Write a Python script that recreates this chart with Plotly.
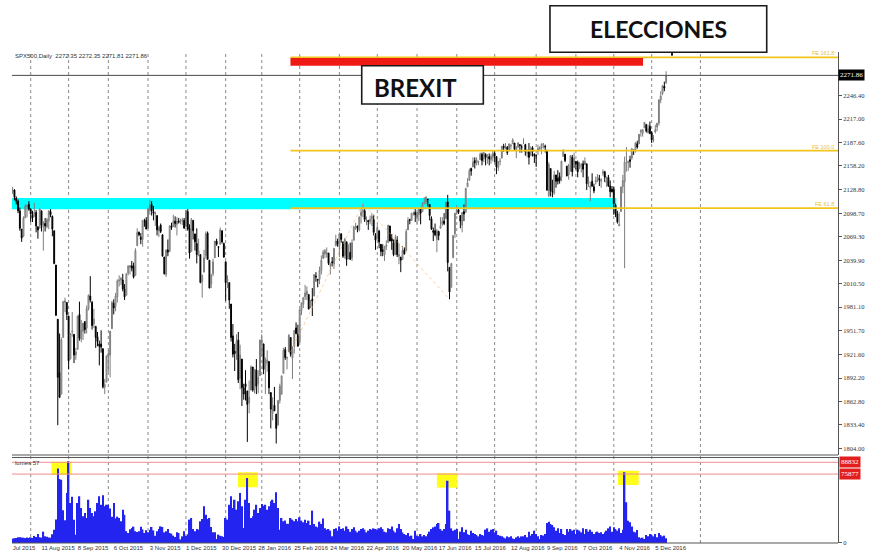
import plotly.graph_objects as go
import pandas as pd

# ---------------- trading calendar (MT4 CFD bars) ----------------
trade_dates = pd.bdate_range("2015-07-20", "2016-12-13").drop(
    pd.to_datetime(["2015-12-25", "2016-01-01", "2016-03-25", "2016-11-24"]))

# ---------------- OHLC (one line per month) ----------------
opens = [
    2126,2128,2118,2114,2102,2079,2070,2093,2107,2110,
    2104,2097,2095,2100,2082,2080,2102,2082,2086,2082,2089,2101,2095,2077,2034,1966,1899,1872,1943,1987,1987,
    1970,1916,1950,1947,1921,1928,1972,1941,1951,1963,1955,1979,1995,1987,1960,1957,1944,1935,1935,1929,1881,1887,
    1919,1921,1954,1986,1982,1994,2014,2015,2015,2004,1996,2024,2031,2033,2033,2021,2058,2075,2069,2066,2089,2090,
    2080,2102,2110,2101,2098,2096,2077,2084,2072,2044,2022,2053,2051,2083,2082,2089,2085,2089,2088,2089,2090,
    2082,2101,2080,2051,2090,2073,2061,2047,2047,2013,2025,2046,2074,2040,2010,2023,2043,2064,2057,2060,2077,2061,
    2038,2014,2012,1985,1945,1926,1927,1940,1892,1916,1880,1885,1876,1861,1877,1906,1878,1902,1885,1895,
    1936,1935,1907,1911,1913,1874,1848,1858,1847,1833,1864,1872,1898,1928,1917,1925,1943,1917,1932,1955,1947,
    1937,1977,1985,1994,1997,1997,1982,1991,1995,2020,2016,2016,2027,2042,2048,2048,2049,2033,2038,2035,2058,2064,
    2057,2073,2063,2046,2063,2045,2050,2043,2065,2082,2083,2078,2096,2101,2102,2092,2090,2089,2092,2091,2071,
    2067,2077,2060,2053,2047,2057,2062,2083,2067,2062,2047,2065,2045,2044,2041,2053,2052,2078,2091,2090,2099,2100,
    2094,2097,2104,2101,2111,2113,2116,2110,2092,2077,2077,2066,2076,2080,2085,2089,2092,2113,2031,2006,2043,2073,
    2099,2103,2096,2084,2101,2100,2132,2140,2155,2157,2165,2162,2163,2166,2173,2167,2173,2168,2170,2166,2169,
    2174,2170,2156,2164,2168,2183,2182,2182,2177,2183,2186,2187,2178,2182,2185,2182,2187,2185,2174,2176,2171,2181,2173,
    2171,2177,2180,2181,2186,2183,2178,2121,2155,2127,2124,2147,2143,2145,2144,2170,2173,2158,2147,2161,2169,2156,
    2164,2163,2155,2158,2161,2160,2161,2137,2131,2139,2132,2138,2140,2142,2139,2149,2151,2137,2144,2133,2129,
    2129,2109,2098,2083,2101,2132,2138,2167,2162,2166,2168,2177,2178,2186,2186,2201,2199,2206,2210,2200,2208,
    2200,2191,2201,2207,2212,2241,2249,2258,2263,
]
highs = [
    2132,2129,2120,2116,2106,2079,2095,2110,2110,2114,
    2105,2102,2112,2103,2082,2105,2102,2089,2093,2093,2102,2104,2096,2077,2034,1966,1948,1943,1989,1993,1987,
    1970,1948,1975,1947,1930,1970,1988,1965,1961,1963,1983,1997,2020,1989,1979,1957,1950,1939,1952,1929,1891,1920,
    1927,1951,1989,1991,1999,2016,2021,2019,2023,2010,2024,2033,2034,2039,2037,2055,2080,2076,2074,2090,2092,2094,
    2106,2116,2114,2108,2101,2096,2083,2086,2072,2044,2053,2066,2084,2087,2097,2095,2094,2093,2092,2093,2093,
    2103,2104,2085,2093,2090,2073,2080,2067,2047,2022,2053,2076,2076,2040,2023,2042,2064,2067,2057,2081,2077,2062,
    2038,2021,2012,1985,1960,1935,1947,1950,1934,1916,1885,1902,1876,1889,1908,1906,1902,1916,1902,1940,
    1947,1935,1918,1927,1913,1874,1868,1881,1847,1864,1885,1895,1930,1931,1919,1947,1943,1932,1952,1962,1959,
    1978,1987,1994,2009,2007,1997,1990,2005,2022,2025,2016,2032,2046,2053,2054,2056,2049,2036,2044,2055,2072,2067,
    2075,2074,2063,2068,2063,2060,2062,2066,2083,2087,2083,2095,2104,2111,2104,2095,2090,2096,2099,2097,2074,
    2084,2077,2060,2060,2058,2065,2084,2083,2073,2066,2072,2070,2061,2044,2058,2056,2079,2094,2092,2099,2101,2104,
    2100,2105,2105,2113,2119,2120,2117,2110,2095,2081,2086,2079,2077,2094,2094,2099,2113,2122,2031,2036,2071,2099,
    2109,2105,2096,2100,2110,2131,2143,2155,2156,2169,2169,2169,2164,2175,2175,2176,2174,2173,2174,2173,2177,
    2178,2170,2164,2168,2183,2186,2187,2183,2186,2186,2193,2187,2183,2188,2185,2185,2193,2186,2179,2187,2183,2183,2174,
    2173,2185,2183,2186,2187,2185,2178,2163,2155,2141,2152,2147,2153,2150,2165,2179,2173,2158,2161,2172,2172,2175,
    2164,2165,2163,2162,2165,2169,2161,2145,2138,2149,2136,2145,2148,2147,2143,2154,2152,2145,2147,2140,2133,
    2132,2111,2102,2100,2132,2147,2170,2182,2165,2171,2180,2179,2188,2190,2198,2204,2204,2213,2211,2210,2214,
    2202,2197,2210,2212,2242,2252,2259,2264,2277,
]
lows = [
    2123,2115,2110,2099,2077,2063,2069,2094,2094,2102,
    2088,2088,2095,2075,2067,2080,2076,2052,2076,2080,2079,2094,2070,2035,1970,1833,1867,1872,1943,1975,1965,
    1903,1916,1944,1911,1915,1928,1939,1937,1940,1948,1948,1977,1987,1953,1955,1930,1932,1908,1924,1879,1872,1887,
    1900,1893,1954,1972,1976,1987,2007,2009,2001,1990,1996,2021,2022,2026,2017,2021,2058,2070,2060,2057,2082,2079,
    2080,2097,2096,2090,2083,2071,2069,2074,2045,2022,2019,2045,2051,2078,2082,2081,2071,2086,2085,2084,2080,
    2082,2077,2042,2051,2066,2052,2036,2045,2011,1993,2025,2042,2041,2005,2005,2020,2043,2058,2044,2060,2061,2043,
    1989,2005,1979,1938,1918,1901,1915,1886,1878,1857,1865,1864,1812,1848,1877,1875,1873,1872,1873,1895,
    1920,1897,1872,1900,1872,1829,1839,1851,1810,1833,1860,1871,1898,1915,1903,1925,1919,1891,1923,1947,1932,
    1937,1971,1980,1990,1990,1978,1980,1970,1995,2013,2006,2010,2022,2042,2043,2043,2034,2022,2032,2029,2058,2057,
    2044,2062,2043,2042,2033,2041,2041,2039,2065,2078,2075,2076,2086,2094,2088,2084,2078,2085,2083,2071,2053,
    2066,2055,2045,2045,2039,2053,2062,2064,2053,2045,2047,2044,2035,2025,2041,2047,2052,2078,2085,2090,2096,2088,
    2086,2089,2085,2101,2110,2110,2107,2090,2078,2064,2070,2050,2065,2080,2083,2084,2092,2026,1991,2006,2043,2068,
    2097,2098,2080,2075,2089,2100,2132,2140,2146,2157,2155,2159,2159,2166,2159,2163,2159,2161,2159,2161,2164,
    2163,2148,2152,2159,2168,2176,2179,2172,2177,2179,2186,2178,2168,2181,2175,2175,2186,2171,2169,2160,2171,2170,2162,
    2157,2172,2178,2173,2180,2175,2127,2119,2120,2119,2122,2131,2135,2136,2139,2170,2163,2145,2141,2151,2145,2156,
    2154,2144,2155,2150,2144,2160,2128,2132,2114,2132,2124,2135,2138,2133,2131,2146,2138,2132,2132,2119,2125,
    2097,2094,2086,2083,2101,2124,2030,2151,2152,2156,2166,2172,2175,2180,2186,2195,2195,2206,2200,2199,2198,
    2187,2188,2199,2202,2209,2237,2247,2252,2261,
]
closes = [
    2128,2119,2114,2102,2080,2068,2093,2108,2109,2104,
    2098,2093,2100,2083,2078,2104,2084,2087,2083,2091,2102,2097,2079,2036,1971,1893,1868,1940,1988,1989,1972,
    1914,1948,1951,1921,1925,1970,1942,1952,1961,1953,1979,1996,1990,1958,1966,1943,1938,1932,1931,1881,1884,1920,
    1923,1951,1987,1980,1995,2014,2015,2017,2004,1994,2023,2033,2033,2030,2019,2052,2075,2072,2066,2090,2089,2079,
    2104,2109,2102,2099,2099,2078,2081,2076,2045,2023,2053,2050,2083,2081,2089,2086,2089,2088,2089,2090,2080,
    2102,2079,2049,2091,2077,2063,2047,2052,2012,2021,2043,2073,2041,2005,2021,2038,2064,2060,2056,2078,2063,2044,
    2012,2016,1990,1943,1922,1923,1938,1890,1921,1880,1872,1881,1859,1868,1906,1877,1903,1882,1893,1940,
    1940,1903,1913,1915,1880,1853,1852,1851,1829,1864,1882,1895,1927,1918,1918,1946,1922,1929,1952,1948,1932,
    1978,1986,1993,1999,2001,1979,1989,1989,2022,2019,2015,2027,2040,2050,2052,2049,2036,2036,2037,2055,2064,2060,
    2073,2066,2045,2066,2041,2048,2041,2062,2082,2082,2080,2094,2100,2102,2091,2092,2088,2091,2095,2075,2065,
    2081,2063,2051,2051,2057,2059,2084,2064,2064,2047,2066,2047,2047,2040,2052,2048,2076,2090,2090,2099,2099,2097,
    2100,2105,2099,2110,2112,2119,2116,2096,2079,2075,2072,2077,2071,2083,2089,2086,2113,2037,2000,2036,2071,2099,
    2103,2100,2089,2100,2098,2130,2137,2152,2152,2163,2162,2166,2164,2173,2165,2175,2169,2169,2167,2170,2174,
    2171,2157,2164,2164,2183,2181,2182,2175,2186,2184,2191,2179,2182,2187,2184,2182,2187,2176,2175,2169,2180,2176,2171,
    2171,2180,2181,2186,2186,2182,2128,2160,2127,2126,2147,2139,2139,2140,2164,2178,2165,2146,2160,2171,2151,2168,
    2161,2151,2160,2160,2154,2164,2136,2139,2133,2133,2127,2140,2144,2141,2141,2151,2144,2139,2133,2126,2126,
    2111,2098,2088,2085,2132,2140,2163,2167,2164,2164,2180,2177,2187,2182,2198,2203,2204,2213,2202,2205,2199,
    2191,2192,2204,2212,2241,2246,2259,2256,2271.86,
]
volumes = [
    4800,5200,5600,6200,6400,6000,5800,5400,6000,5600,
    6200,5500,7800,6600,9800,6400,5900,12500,7400,6800,6000,5700,9600,14500,26000,82000,70500,69500,36000,25000,55000,
    89900,44000,51000,25700,9000,44000,51400,38500,29400,33000,27500,47700,38500,33000,29400,34900,44000,51400,42200,52500,40400,42200,
    42000,38000,29000,44000,27000,29000,27500,24000,36700,31000,13000,11000,15000,16500,18000,13000,12000,13000,18000,15000,11000,14000,
    11700,14700,17600,13900,8100,12800,15400,18300,17600,11700,12800,15400,11000,10300,8100,6600,11700,11000,4000,7300,12800,
    8000,9500,25700,27500,15400,12800,15400,14700,23900,26400,40400,31200,26400,27500,17600,11700,11700,4400,9200,8100,7300,6600,
    27500,25700,42200,51400,38500,47700,36700,45900,55000,40400,16500,47700,71500,44000,27500,29400,36700,42200,33000,38500,
    43000,41000,42000,36700,40400,46000,47700,44000,55800,38500,14700,27500,23900,24900,21300,21300,27500,25700,24000,26500,24000,
    28300,24600,22800,25700,22000,24600,19800,35600,20900,18300,17200,23500,20900,27100,16100,14700,15400,13600,7300,15400,16100,13600,
    18300,15400,16100,13600,18300,15400,12500,15400,17200,13600,11700,13600,15400,16100,14700,11700,13600,15400,14700,16100,15400,
    14700,16100,17200,15400,12500,11700,16100,15400,18300,13600,11700,16100,20900,15400,11700,9900,8800,11000,7300,8100,4400,13600,
    8100,7300,9900,7300,8800,7300,9900,12500,15400,17200,18300,20900,22000,15400,13600,15400,20900,68600,35600,16100,13600,14700,
    15400,4400,12500,17200,11700,14700,9900,8800,13600,11000,9900,8800,7300,9900,8800,8100,14700,16100,12500,14700,15400,
    11700,13600,8800,8100,7300,6200,5100,7300,6200,7300,5100,4400,6200,7300,5900,7300,7300,8800,6200,12500,8100,9900,13600,
    9900,7300,4400,8800,8100,9900,22000,23500,20900,19800,17200,13600,16100,11000,15400,9900,8800,15400,12500,15400,13600,14700,
    9900,14700,13600,11700,16100,9900,15400,12500,14700,12500,9900,11700,12500,11000,11700,9900,11700,13600,16100,18300,12500,
    17200,15400,13600,16100,11000,14700,77800,44800,24600,22800,18300,12500,11700,14300,6200,5100,5900,4400,8800,7300,9900,
    8800,7300,9900,6200,11000,8800,7300,8100,5100,
]

# ---------------- axis labels ----------------
tick_dates = ["2015-07-20", "2015-08-11", "2015-09-08", "2015-10-06", "2015-11-03", "2015-12-01",
              "2015-12-30", "2016-01-28", "2016-02-25", "2016-03-24", "2016-04-22", "2016-05-20",
              "2016-06-17", "2016-07-15", "2016-08-12", "2016-09-09", "2016-10-07", "2016-11-04", "2016-12-05"]
tick_labels = ["Jul 2015", "11 Aug 2015", "8 Sep 2015", "6 Oct 2015", "3 Nov 2015", "1 Dec 2015",
               "30 Dec 2015", "28 Jan 2016", "25 Feb 2016", "24 Mar 2016", "22 Apr 2016", "20 May 2016",
               "17 Jun 2016", "15 Jul 2016", "12 Aug 2016", "9 Sep 2016", "7 Oct 2016", "4 Nov 2016", "5 Dec 2016"]
price_ticks = [1804.00, 1833.40, 1862.80, 1892.20, 1921.60, 1951.70, 1981.10, 2010.50, 2039.90,
               2069.30, 2098.70, 2128.80, 2158.20, 2187.60, 2217.00, 2246.40]

# levels / objects drawn on the chart
bid_price = 2271.86
vol_levels = [88832, 75877]
fe_levels = [61.8, 100.0, 161.8]
fe_prices = [2105.3, 2177.5, 2294.5]
fe_point_dates = ["2016-02-23", "2016-04-20", "2016-06-27"]
fe_point_prices = [1925, 2111, 1991]

n = len(trade_dates)
for name, arr in [("opens", opens), ("highs", highs), ("lows", lows), ("closes", closes), ("volumes", volumes)]:
    if len(arr) != n:
        raise ValueError(f"{name} has {len(arr)} values, expected {n}")

bar_idx = list(range(n))
pos = {d.strftime("%Y-%m-%d"): i for i, d in enumerate(trade_dates)}
tickvals = [pos[d] for d in tick_dates]
month_starts = [i for i in range(1, n) if trade_dates[i].month != trade_dates[i - 1].month] + [381]

X_MIN, X_MAX = -0.36, 457.2
P_DOM = [0.16206, 0.90424]
V_DOM = [0.0, 0.15746]

fig = go.Figure()
fig.add_trace(go.Candlestick(
    x=bar_idx, open=opens, high=highs, low=lows, close=closes,
    increasing=dict(line=dict(color="#7d7d7d", width=1), fillcolor="#d4d4d4"),
    decreasing=dict(line=dict(color="#000000", width=1), fillcolor="#000000"),
    whiskerwidth=0, xaxis="x", yaxis="y", showlegend=False, hoverinfo="skip"))
fig.add_trace(go.Bar(
    x=bar_idx, y=volumes, marker=dict(color="#2424f0", line=dict(width=0)),
    xaxis="x2", yaxis="y2", showlegend=False, hoverinfo="skip"))
fig.add_trace(go.Scatter(
    x=[pos[d] for d in fe_point_dates], y=fe_point_prices, mode="lines",
    line=dict(color="rgba(238,170,80,0.55)", width=1, dash="dot"),
    xaxis="x", yaxis="y", showlegend=False, hoverinfo="skip"))

shapes = []
# cyan resistance band (behind candles)
shapes.append(dict(type="rect", xref="x", yref="y", x0=X_MIN, x1=334.4, y0=2104, y1=2118,
                   fillcolor="#00ffff", line=dict(width=0), layer="below"))
# yellow highlight boxes on the volume spikes (behind bars)
for (xa, xb, ya, yb) in [(21.5, 32.6, 74900, 89500), (124.8, 135.9, 61300, 77900),
                         (235.0, 246.1, 60900, 76800), (335.3, 346.8, 63900, 79600)]:
    shapes.append(dict(type="rect", xref="x2", yref="y2", x0=xa, x1=xb, y0=ya, y1=yb,
                       fillcolor="#ffff1a", line=dict(width=0), layer="below"))
# month grid lines
for m in month_starts:
    shapes.append(dict(type="line", xref="x", yref="paper", x0=m, x1=m, y0=0, y1=P_DOM[1],
                       line=dict(color="#8a8a8a", width=1, dash="dot"), layer="below"))
# Fibonacci expansion levels
for p in fe_prices:
    shapes.append(dict(type="line", xref="x", yref="y", x0=153.9, x1=X_MAX, y0=p, y1=p,
                       line=dict(color="#f2c41c", width=1.6)))
# red target band
shapes.append(dict(type="rect", xref="x", yref="y", x0=153.9, x1=349.2, y0=2284, y1=2293.8,
                   fillcolor="#f01a14", line=dict(width=0)))
# bid line
shapes.append(dict(type="line", xref="x", yref="y", x0=X_MIN, x1=X_MAX, y0=bid_price, y1=bid_price,
                   line=dict(color="#4a4a4a", width=1)))
# volume level lines
for v in vol_levels:
    shapes.append(dict(type="line", xref="x2", yref="y2", x0=X_MIN, x1=X_MAX, y0=v, y1=v,
                       line=dict(color="#f08c8c", width=1)))
# panel borders
for yp in [P_DOM[0], V_DOM[1], 0.0]:
    shapes.append(dict(type="line", xref="paper", yref="paper", x0=0, x1=1, y0=yp, y1=yp,
                       line=dict(color="#555555", width=1)))
# annotation boxes
shapes.append(dict(type="rect", xref="paper", yref="paper", x0=0.4234, x1=0.5706, y0=0.8085, y1=0.8790,
                   fillcolor="white", line=dict(color="#1a1a1a", width=1.6)))
shapes.append(dict(type="rect", xref="paper", yref="paper", x0=0.6513, x1=0.9137, y0=0.9037, y1=0.9895,
                   fillcolor="white", line=dict(color="#1a1a1a", width=1.6)))
shapes.append(dict(type="line", xref="paper", yref="paper", x0=0.7990, x1=0.7990, y0=0.8975, y1=0.9037,
                   line=dict(color="#1a1a1a", width=2)))

annotations = [
    dict(x=0.4891, y=0.8395, xref="paper", yref="paper", xanchor="center", yanchor="middle",
         text="<b>BREXIT</b>", showarrow=False, font=dict(family="Lato", size=24, color="#111111")),
    dict(x=0.7826, y=0.9470, xref="paper", yref="paper", xanchor="center", yanchor="middle",
         text="<b>ELECCIONES</b>", showarrow=False, font=dict(family="Lato", size=23, color="#111111")),
    dict(x=0.0012, y=0.8969, xref="paper", yref="paper", xanchor="left", yanchor="middle",
         text="SPX500,Daily  2272.35 2272.35 2271.81 2271.86",
         showarrow=False, font=dict(family="Liberation Sans", size=6, color="#333333")),
    dict(x=0.0012, y=0.1473, xref="paper", yref="paper", xanchor="left", yanchor="middle", text="lumes 57",
         showarrow=False, font=dict(family="Liberation Sans", size=6, color="#333333")),
    dict(x=1.0, y=bid_price, xref="paper", yref="y", xanchor="left", yanchor="middle", text="2271.86",
         showarrow=False, bgcolor="#000000", borderpad=1,
         font=dict(family="Liberation Serif", size=7, color="white")),
]
for lvl, p in zip(fe_levels, fe_prices):
    annotations.append(dict(x=0.998, y=p, xref="paper", yref="y", xanchor="right", yanchor="bottom",
                            text=f"FE {lvl:.1f}", showarrow=False, yshift=-1,
                            font=dict(family="Liberation Sans", size=5.5, color="#e8bf30")))
for v in vol_levels:
    annotations.append(dict(x=1.0, y=v, xref="paper", yref="y2", xanchor="left", yanchor="middle",
                            text=str(v), showarrow=False, bgcolor="#e41e1e", borderpad=1, xshift=1,
                            font=dict(family="Liberation Serif", size=7, color="white")))

fig.update_layout(
    width=872, height=556, margin=dict(l=12, r=34, t=0, b=13, autoexpand=False),
    paper_bgcolor="white", plot_bgcolor="white", bargap=0.18,
    font=dict(family="Liberation Sans", color="#333333"),
    shapes=shapes, annotations=annotations,
    xaxis=dict(domain=[0, 1], anchor="y", range=[X_MIN, X_MAX], showgrid=False, zeroline=False,
               showticklabels=False, ticks="", rangeslider=dict(visible=False), automargin=False),
    xaxis2=dict(domain=[0, 1], anchor="y2", matches="x", range=[X_MIN, X_MAX], showgrid=False, zeroline=False,
                tickmode="array", tickvals=tickvals, ticktext=tick_labels, ticks="", tickangle=0,
                ticklabelposition="outside right", automargin=False,
                tickfont=dict(family="Liberation Sans", size=6, color="#333333")),
    yaxis=dict(domain=P_DOM, anchor="x", side="right", range=[1795.6, 2301.2], showgrid=False, zeroline=False,
               tickmode="array", tickvals=price_ticks, ticktext=[f"{v:.2f}" for v in price_ticks],
               ticks="outside", ticklen=3, tickcolor="#555555", showline=True, linecolor="#555555",
               automargin=False, tickfont=dict(family="Liberation Serif", size=6.5, color="#333333")),
    yaxis2=dict(domain=V_DOM, anchor="x2", side="right", range=[0, 94111], showgrid=False, zeroline=False,
                tickmode="array", tickvals=[0], ticktext=["0"], ticks="outside", ticklen=3,
                tickcolor="#555555", showline=True, linecolor="#555555", automargin=False,
                tickfont=dict(family="Liberation Serif", size=6.5, color="#333333")),
)

fig.write_html("out.html", config={"displayModeBar": False},
               post_script="document.body.style.margin='0px';")
